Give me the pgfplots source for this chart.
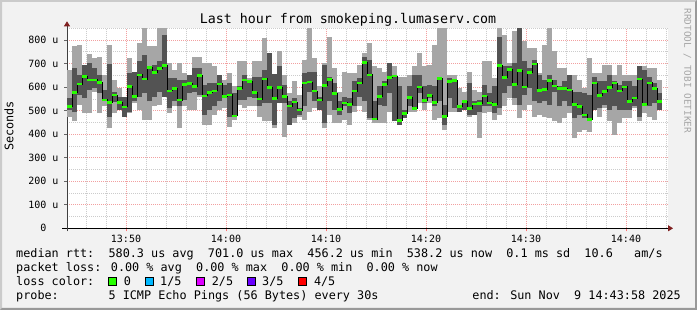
\documentclass[border=0pt]{standalone}
\usepackage{fontspec}
\setmainfont{DejaVu Sans Mono}
\setmonofont{DejaVu Sans Mono}
\usepackage{pgfplots}
\pgfplotsset{compat=1.18}
\usepackage{pgfplotstable}
\usetikzlibrary{arrows.meta}
\definecolor{canvasback}{HTML}{F2F2F2}
\definecolor{shadea}{HTML}{CBCBCB}
\definecolor{shadeb}{HTML}{999999}
\definecolor{smokelight}{HTML}{A6A6A6}
\definecolor{smokedark}{HTML}{535353}
\definecolor{medgreen}{HTML}{26FF00}
\definecolor{lossa}{HTML}{00B8FF}
\definecolor{lossb}{HTML}{DD00FF}
\definecolor{lossc}{HTML}{6A00FF}
\definecolor{lossd}{HTML}{FF0000}
\definecolor{arrowred}{HTML}{7F1F1F}
\definecolor{mgrid}{HTML}{F2A0A0}
\definecolor{mingrid}{HTML}{CCCCCC}
\newcommand\leg{\fontsize{11.8}{14}\selectfont}
\newcommand\CP[2]{([shift={(#1pt,#2pt)}]rel axis cs:0,0)}
\pgfplotsset{layers/mylayers/.define layer set={canvas,axis background,axis grid,axis ticks,axis lines,axis tick labels,pre main,main,axis descriptions,axis foreground}{}}
\pgfplotstableread{
x lmin lmax dmin dmax med
44.1 475 674 503 553 518
44.6 454 773 493 681 577
45.1 525 777 567 652 613
45.6 489 695 553 695 645
46.1 489 740 588 702 631
46.6 581 723 596 681 631
47.1 489 730 574 652 620
47.6 518 652 539 588 546
48.1 425 780 475 698 535
48.6 489 631 536 581 566
49.1 503 596 503 560 535
49.6 475 560 475 560 516
50.1 489 723 496 659 603
50.6 532 666 539 666 560
51.1 503 787 560 709 652
51.6 461 850 574 737 634
52.1 461 773 539 688 683
52.6 518 773 560 695 662
53.1 525 850 581 709 679
53.6 560 850 560 822 691
54.1 489 702 510 638 584
54.6 518 674 539 638 594
55.1 425 702 518 631 545
55.6 518 659 546 631 610
56.1 503 652 574 652 615
56.6 503 730 581 681 603
57.1 560 730 567 681 649
57.6 440 702 482 610 563
58.1 440 702 503 617 577
58.6 482 688 518 617 584
59.1 503 652 539 652 614
59.6 510 631 560 610 560
60.1 432 659 475 617 567
60.6 461 603 475 574 478
61.1 525 709 546 603 593
61.6 510 709 546 652 630
62.1 518 638 560 631 624
62.6 518 709 553 645 576
63.1 475 709 518 645 549
63.6 454 808 532 674 635
64.1 454 744 532 744 598
64.6 425 655 440 655 552
65.1 532 754 532 688 598
65.6 390 652 532 610 559
66.1 440 574 440 539 520
66.6 447 627 468 553 537
67.1 475 567 482 510 502
67.6 461 716 518 659 618
68.1 496 850 581 666 622
68.6 510 723 539 666 583
69.1 503 603 503 560 545
69.6 425 702 447 695 607
70.1 482 815 539 645 632
70.6 447 681 503 617 573
71.1 447 581 482 539 505
71.6 461 666 518 560 533
72.1 440 659 489 553 525
72.6 496 659 518 624 583
73.1 518 695 560 638 617
73.6 496 744 539 730 705
74.1 461 787 468 716 652
74.6 447 688 461 539 464
75.1 447 681 525 603 559
75.6 447 666 518 624 610
76.1 496 702 574 702 642
76.6 454 688 454 652 647
77.1 440 645 440 603 457
77.6 468 645 468 503 488
78.1 496 652 518 603 556
78.6 496 688 503 652 508
79.1 532 744 574 652 600
79.6 503 688 532 603 542
80.1 532 695 553 610 564
80.6 461 780 518 603 535
81.1 468 850 539 645 637
81.6 418 850 440 525 475
82.1 496 652 553 638 624
82.6 496 652 510 631 627
83.1 496 596 496 525 518
83.6 503 581 503 546 540
84.1 475 666 482 617 509
84.6 482 588 482 539 528
85.1 383 581 496 546 530
85.6 489 709 518 610 562
86.1 496 709 518 574 533
86.6 461 638 489 603 526
87.1 482 850 510 815 692
87.6 518 822 574 688 641
88.1 553 702 603 688 676
88.6 525 837 553 702 610
89.1 468 850 525 850 671
89.6 503 794 567 709 601
90.1 525 766 596 681 662
90.6 475 766 539 716 699
91.1 482 659 532 652 586
91.6 475 780 539 631 591
92.1 468 850 525 652 628
92.6 454 752 581 631 604
93.1 447 681 518 603 594
93.6 468 681 539 624 594
94.1 489 652 518 652 587
94.6 383 652 468 581 525
95.1 411 631 482 581 518
95.6 418 596 468 574 482
96.1 411 723 461 567 462
96.6 503 659 503 645 617
97.1 475 659 510 624 564
97.6 510 695 525 624 581
98.1 454 695 503 652 598
98.6 397 652 518 624 617
99.1 447 695 503 610 584
99.6 468 652 503 624 601
100.1 468 652 503 624 540
100.6 510 652 518 603 554
101.1 454 688 475 688 634
101.6 489 688 518 674 525
102.1 475 681 518 645 618
102.6 461 681 532 617 594
103.1 503 631 503 574 540
103.6 503 631 503 574 540
}\smoke
\begin{document}
\begin{tikzpicture}
\begin{axis}[
  set layers=mylayers, clip=false,
  at={(67pt,81.7pt)}, anchor=south west,
  scale only axis, width=601pt, height=200pt,
  xmin=44.1, xmax=104.2, ymin=0, ymax=850,
  axis lines=left,
  x axis line style={black, line width=0.8pt, -{Triangle[length=5pt,width=6pt,color=arrowred,fill=arrowred]}, shorten >=-5pt, shorten <=-5pt},
  y axis line style={black!75, line width=0.8pt, -{Triangle[length=5pt,width=6pt,color=arrowred,fill=arrowred]}, shorten >=-7pt, shorten <=-3pt},
  axis background/.style={fill=white},
  grid=both,
  major grid style={mgrid, line width=0.7pt, dash pattern=on 1pt off 1pt},
  minor grid style={mingrid, line width=0.7pt, dash pattern=on 1pt off 1pt},
  tick align=outside, major tick length=3pt, minor tick length=0pt,
  xtick style={red!55, line width=0.6pt},
  ytick style={black!60, line width=0.6pt},
  xtick={50,60,70,80,90,100},
  xticklabels={\mbox{13:50},\mbox{14:00},\mbox{14:10},\mbox{14:20},\mbox{14:30},\mbox{14:40}},
  minor xtick={46,48,52,54,56,58,62,64,66,68,72,74,76,78,82,84,86,88,92,94,96,98,102,104},
  ytick={0,100,200,300,400,500,600,700,800},
  yticklabels={\mbox{0\hphantom{00}},\mbox{100 u},\mbox{200 u},\mbox{300 u},\mbox{400 u},\mbox{500 u},\mbox{600 u},\mbox{700 u},\mbox{800 u}},
  minor ytick={50,150,250,350,450,550,650,750,850},
  ticklabel style={font=\fontsize{10}{12}\selectfont, inner sep=0pt},
  xticklabel style={anchor=north, yshift=-3.4pt},
  yticklabel style={anchor=east, xshift=-5.3pt},
]
\begin{pgfonlayer}{canvas}
\fill[canvasback] \CP{-67}{-81.7} rectangle \CP{630}{228.3};
\fill[shadea] \CP{-67}{-81.7} -- \CP{-67}{228.3} -- \CP{630}{228.3} -- \CP{628}{226.3} -- \CP{-65}{226.3} -- \CP{-65}{-79.7} -- cycle;
\fill[shadeb] \CP{-67}{-81.7} -- \CP{630}{-81.7} -- \CP{630}{228.3} -- \CP{628}{226.3} -- \CP{628}{-79.7} -- \CP{-65}{-79.7} -- cycle;
\end{pgfonlayer}
\addplot[only marks, mark size=0pt, mark options={draw=none, fill=none}, skip coords between index={119}{120},
  error bars/.cd, y dir=plus, y explicit, error mark=none,
  error bar style={line width=5.2pt, smokelight, line cap=butt}]
  table[x expr=\thisrow{x}+0.25, y=lmin, y error plus expr=\thisrow{lmax}-\thisrow{lmin}]{\smoke};
\addplot[only marks, mark size=0pt, mark options={draw=none, fill=none}, skip coords between index={119}{120},
  error bars/.cd, y dir=plus, y explicit, error mark=none,
  error bar style={line width=5.2pt, smokedark, line cap=butt}]
  table[x expr=\thisrow{x}+0.25, y=dmin, y error plus expr=\thisrow{dmax}-\thisrow{dmin}]{\smoke};
\addplot[black, line width=0.8pt, const plot mark left, mark=none] table[x=x,y=med]{\smoke};
\addplot[medgreen, line width=2.6pt, jump mark left, mark=none] table[x=x,y=med]{\smoke};
\end{axis}
\begin{scope}[x=1pt,y=1pt]
\node[anchor=base, font=\fontsize{13.3}{15}\selectfont] at (348,286) {Last hour from smokeping.lumaserv.com};
\node[anchor=base, rotate=90, font=\leg] at (13.3,184) {Seconds};
\node[anchor=base west, rotate=-90, font=\fontsize{9.4}{11}\selectfont, text=black!35] at (684.3,305) {RRDTOOL / TOBI OETIKER};
\node[anchor=base west, inner sep=0pt, font=\leg] at (16,52.3) {median rtt:\ \ 580.3 us avg\ \ 701.0 us max\ \ 456.2 us min\ \ 538.2 us now\ \ 0.1 ms sd\ \ 10.6\ \ \ am/s};
\node[anchor=base west, inner sep=0pt, font=\leg] at (16,38.3) {packet loss: 0.00 \% avg\ \ 0.00 \% max\ \ 0.00 \% min\ \ 0.00 \% now};
\node[anchor=base west, inner sep=0pt, font=\leg] at (16,24.3) {loss color:};
\filldraw[fill=medgreen, draw=black, line width=0.8pt] (108.5,24.3) rectangle (116.5,32.3);
\node[anchor=base west, inner sep=0pt, font=\leg] at (123.6,24.3) {0};
\filldraw[fill=lossa, draw=black, line width=0.8pt] (145,24.3) rectangle (153,32.3);
\node[anchor=base west, inner sep=0pt, font=\leg] at (160,24.3) {1/5};
\filldraw[fill=lossb, draw=black, line width=0.8pt] (196.5,24.3) rectangle (204.5,32.3);
\node[anchor=base west, inner sep=0pt, font=\leg] at (211.6,24.3) {2/5};
\filldraw[fill=lossc, draw=black, line width=0.8pt] (247,24.3) rectangle (255,32.3);
\node[anchor=base west, inner sep=0pt, font=\leg] at (262,24.3) {3/5};
\filldraw[fill=lossd, draw=black, line width=0.8pt] (298.5,24.3) rectangle (306.5,32.3);
\node[anchor=base west, inner sep=0pt, font=\leg] at (313.8,24.3) {4/5};
\node[anchor=base west, inner sep=0pt, font=\leg] at (16,10.3) {probe:\ \ \ \ \ \ \ 5 ICMP Echo Pings (56 Bytes) every 30s};
\node[anchor=base east, inner sep=0pt, font=\leg] at (681,10.3) {end: Sun Nov\ \ 9 14:43:58 2025};
\end{scope}
\end{tikzpicture}
\end{document}
